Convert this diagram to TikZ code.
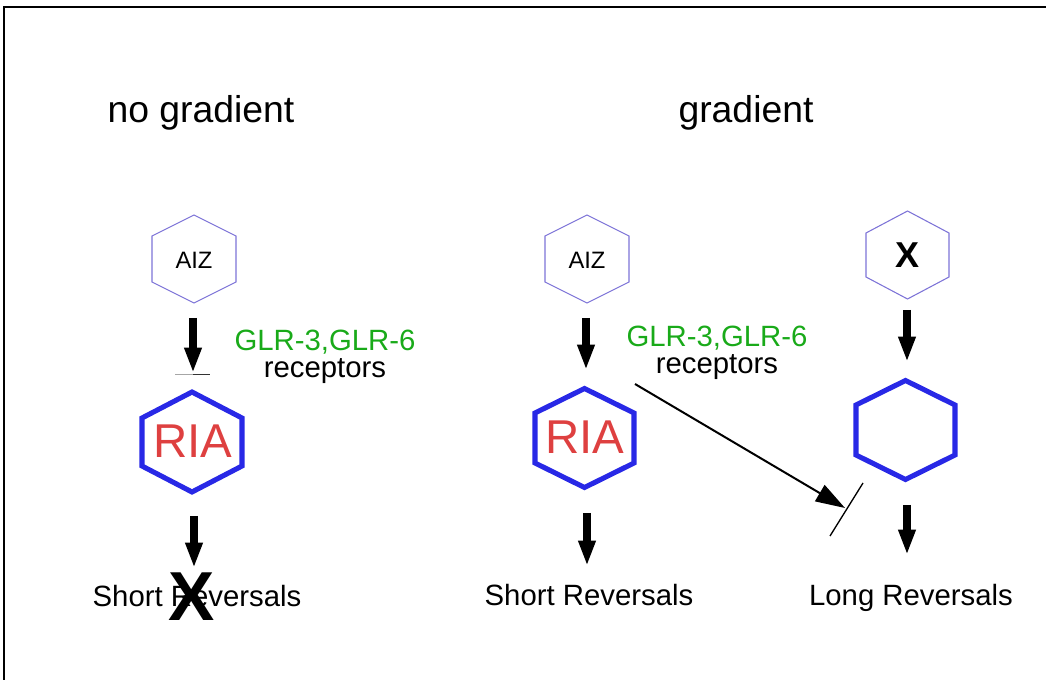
\documentclass[tikz,border=0pt]{standalone}
\usepackage{fontspec}
\setmainfont{Liberation Sans}
\usetikzlibrary{arrows.meta}
\definecolor{thinhexc}{RGB}{125,115,215}
\definecolor{thickhexc}{RGB}{40,40,230}
\definecolor{riared}{RGB}{222,64,64}
\definecolor{glrgreen}{RGB}{25,170,25}
\tikzset{
  thinhex/.style={draw=thinhexc, line width=0.8pt},
  thickhex/.style={draw=thickhexc, line width=3.8pt, line join=miter},
  title/.style={font=\fontsize{28}{30}\selectfont, anchor=base},
  lbl/.style={font=\fontsize{22}{24}\selectfont, anchor=base},
  glr/.style={lbl, text=glrgreen},
  riatext/.style={font=\fontsize{35.6}{38}\selectfont, text=riared},
  aiztext/.style={font=\fontsize{17.8}{20}\selectfont},
  xtext/.style={font=\bfseries\fontsize{27}{29}\selectfont},
  bigx/.style={font=\bfseries\fontsize{52}{54}\selectfont},
  thickarrow/.style={line width=5.6pt, -{Triangle[width=12pt,length=19pt]}},
  thinarrow/.style={line width=1.5pt, -{Triangle[width=14pt,length=22pt]}},
  barline/.style={line width=0.9pt},
}
\begin{document}
\begin{tikzpicture}[x=0.75pt,y=-0.75pt]
\useasboundingbox (0,0) rectangle (1046,680);
% frame
\draw[line width=2pt] (4,680) -- (4,7) -- (1046,7);

% titles
\node[title] (tnog) at (201,123) {no gradient};
\node[title] (tgrad) at (746,123) {gradient};

% left column
\node[aiztext] (aizL) at (194,260) {AIZ};
\draw[thinhex, shift={(194,259)}] (-42,-23) -- (-42,23) -- (0,44) -- (42,23) -- (42,-23) -- (0,-44) -- cycle;
\node[riatext] (riaL) at (193,441) {RIA};
\draw[thickhex, shift={(192,442)}] (-50,-24) -- (-50,24) -- (0,50) -- (50,24) -- (50,-24) -- (0,-50) -- cycle;
\node[glr] (glrL) at (325,351) {GLR-3,GLR-6};
\node[lbl] (recL) at (325,378) {receptors};
\node[lbl] (shortL) at (197,606) {Short Reversals};
\node[bigx] (bigX) at (191.5,597) {X};

\coordinate (l1s) at (193,318);
\coordinate (l1e) at (193,373);
\draw[thickarrow] (l1s) -- (l1e);
\coordinate (barLa) at (175,374.5);
\coordinate (barLm) at (193,374.5);
\coordinate (barLb) at (210,374.5);
\draw[barline, gray!70] (barLa) -- (barLm);
\draw[barline, black!80] (barLm) -- (barLb);
\coordinate (l2s) at (194,516);
\coordinate (l2e) at (194,568);
\draw[thickarrow] (l2s) -- (l2e);

% middle column
\node[aiztext] (aizR) at (587,260) {AIZ};
\draw[thinhex, shift={(587,259)}] (-42,-23) -- (-42,23) -- (0,44) -- (42,23) -- (42,-23) -- (0,-44) -- cycle;
\node[riatext] (riaR) at (585,437) {RIA};
\draw[thickhex, shift={(584.5,438)}] (-49.5,-25) -- (-49.5,25) -- (0,49.5) -- (49.5,25) -- (49.5,-25) -- (0,-49.5) -- cycle;
\node[glr] (glrR) at (717,347) {GLR-3,GLR-6};
\node[lbl] (recR) at (717,374) {receptors};
\node[lbl] (shortR) at (589,605) {Short Reversals};

\coordinate (m1s) at (586,318);
\coordinate (m1e) at (586,370);
\draw[thickarrow] (m1s) -- (m1e);
\coordinate (m2s) at (587,513);
\coordinate (m2e) at (587,566);
\draw[thickarrow] (m2s) -- (m2e);

% right column
\node[xtext] (xR) at (907.5,255) {X};
\draw[thinhex, shift={(907.5,255)}] (-41.5,-22) -- (-41.5,22) -- (0,44) -- (41.5,22) -- (41.5,-22) -- (0,-44) -- cycle;
\coordinate (hexE) at (905.5,430);
\draw[thickhex, shift={(hexE)}] (-49.5,-25) -- (-49.5,25) -- (0,49.5) -- (49.5,25) -- (49.5,-25) -- (0,-49.5) -- cycle;
\node[lbl] (longR) at (911,605) {Long Reversals};

\coordinate (r1s) at (907,310);
\coordinate (r1e) at (907,362);
\draw[thickarrow] (r1s) -- (r1e);
\coordinate (r2s) at (907,505);
\coordinate (r2e) at (907,555);
\draw[thickarrow] (r2s) -- (r2e);

% diagonal inhibition
\coordinate (dS) at (635,384);
\coordinate (dE) at (845,508);
\draw[thinarrow] (dS) -- (dE);
\coordinate (bA) at (863,483);
\coordinate (bB) at (830,536);
\draw[line width=1pt] (bA) -- (bB);
\end{tikzpicture}
\end{document}
